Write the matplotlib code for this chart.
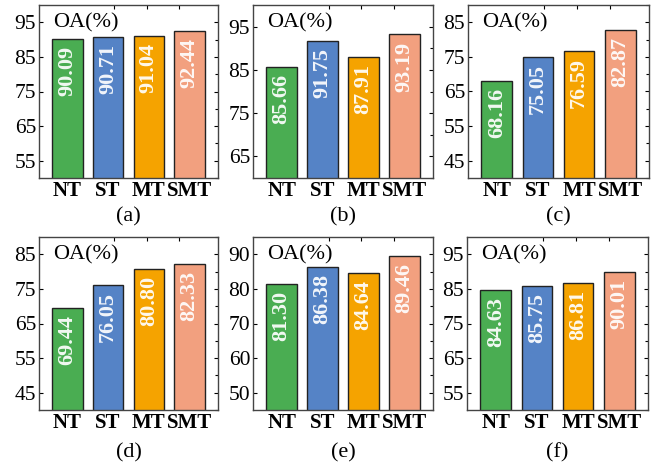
import numpy as np
import matplotlib
matplotlib.use("Agg")
import matplotlib.pyplot as plt
from matplotlib.ticker import MultipleLocator

plt.rcParams["font.family"] = "serif"
plt.rcParams["font.serif"] = ["Liberation Serif"]

# ── données ──────────────────────────────────────────────
methods = ["NT", "ST", "MT", "SMT"]
colors = ["#4aad52", "#5583c6", "#f5a300", "#f2a07f"]
captions = ["(a)", "(b)", "(c)", "(d)", "(e)", "(f)"]

oa_a = [90.09, 90.71, 91.04, 92.44]
oa_b = [85.66, 91.75, 87.91, 93.19]
oa_c = [68.16, 75.05, 76.59, 82.87]
oa_d = [69.44, 76.05, 80.80, 82.33]
oa_e = [81.30, 86.38, 84.64, 89.46]
oa_f = [84.63, 85.75, 86.81, 90.01]
all_oa = [oa_a, oa_b, oa_c, oa_d, oa_e, oa_f]

ylims = [(50, 100), (60, 100), (40, 90), (40, 90), (45, 95), (50, 100)]
yticks = [
    [55, 65, 75, 85, 95],
    [65, 75, 85, 95],
    [45, 55, 65, 75, 85],
    [45, 55, 65, 75, 85],
    [50, 60, 70, 80, 90],
    [55, 65, 75, 85, 95],
]

# positions des axes en pixels (gauche, haut, droite, bas)
W, H = 659, 468
boxes = [
    (39, 5, 218, 178), (253, 5, 433, 178), (468, 5, 649, 178),
    (39, 237, 218, 410), (253, 237, 433, 410), (467, 237, 648, 410),
]

fig = plt.figure(figsize=(W / 100, H / 100), dpi=100)
x = np.arange(len(methods))

for i, (vals, box) in enumerate(zip(all_oa, boxes)):
    l, t, r, b = box
    ax = fig.add_axes([l / W, (H - b) / H, (r - l) / W, (b - t) / H])
    ax.bar(x, vals, width=0.75, color=colors, edgecolor="#222222", linewidth=1.0, zorder=2)
    for xi, v in zip(x, vals):
        ax.annotate(f"{v:.2f}", (xi, v), xytext=(0, -5), textcoords="offset points",
                    rotation=90, ha="center", va="top", color="white", alpha=0.92,
                    fontsize=16, fontweight="bold", zorder=3)
    ax.set_xlim(-0.7, 3.7)
    ax.set_ylim(*ylims[i])
    ax.set_yticks(yticks[i])
    ax.yaxis.set_minor_locator(MultipleLocator(5))
    ax.set_xticks(x)
    ax.set_xticklabels(methods, fontweight="bold", fontsize=15)
    ax.tick_params(axis="y", labelsize=15.5, direction="in", right=True, length=3,
                   width=0.8, pad=2)
    ax.tick_params(axis="y", which="minor", direction="in", right=True, left=False,
                   length=2, width=0.8)
    ax.tick_params(axis="x", direction="in", length=0, pad=2, top=False)
    ax.set_xticks([1.15, 1.95, 2.75], minor=True)
    ax.tick_params(axis="x", which="minor", direction="in", top=True, bottom=False,
                   length=3, width=0.8)
    for sp in ax.spines.values():
        sp.set_color("#444444")
        sp.set_linewidth(1.0)
    ax.text(0.08, 0.895, "OA(%)", transform=ax.transAxes, ha="left", va="center",
            fontsize=16)
    cap_y = -0.225 if i < 3 else -0.25
    ax.text(0.5, cap_y, captions[i], transform=ax.transAxes, ha="center",
            va="center", fontsize=16)

fig.savefig("out.png", dpi=100)
